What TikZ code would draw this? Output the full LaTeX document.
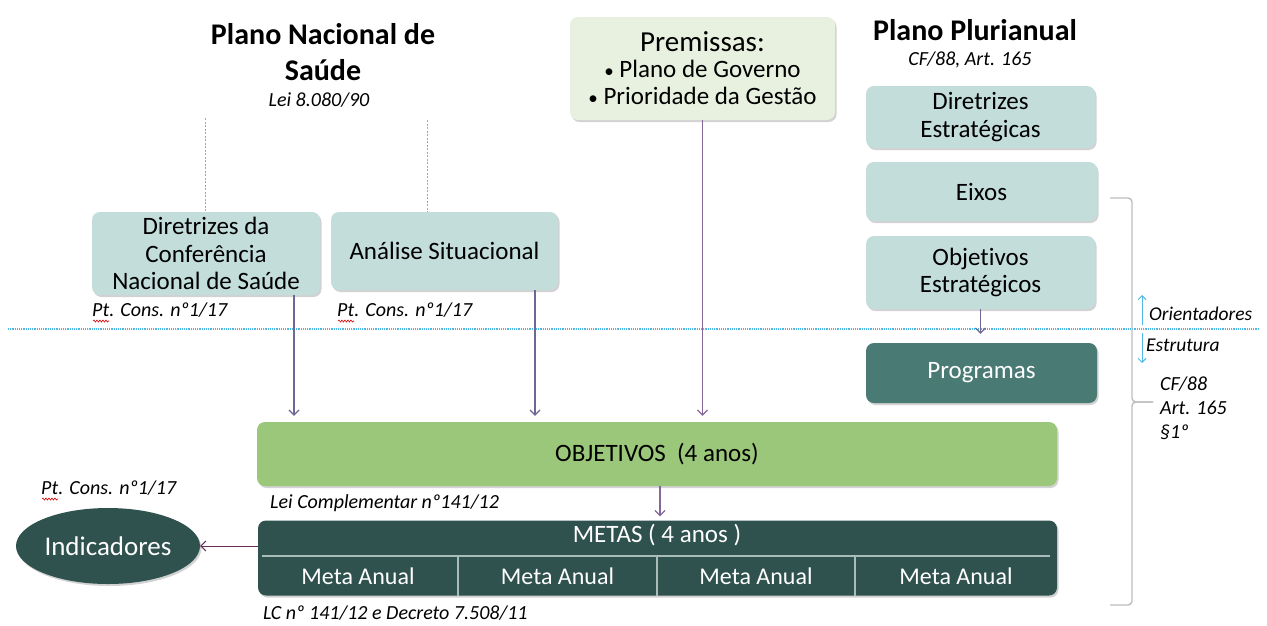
\documentclass[tikz,border=0pt]{standalone}
\usepackage{fontspec}
\setmainfont{Carlito}[Ligatures=NoCommon]
\usetikzlibrary{shadows,arrows.meta,decorations.pathmorphing,shapes.geometric}
\definecolor{lteal}{HTML}{C3DDDB}
\definecolor{lgreen}{HTML}{E8F1DF}
\definecolor{objgreen}{HTML}{9BC77A}
\definecolor{dteal}{HTML}{2F524F}
\definecolor{mteal}{HTML}{4A7A74}
\definecolor{arrgray}{HTML}{6E6894}
\definecolor{arrpurp}{HTML}{86679A}
\definecolor{arrmag}{HTML}{6B2D5C}
\definecolor{skyb}{HTML}{4DB8E6}
\definecolor{brgray}{HTML}{BDBDBD}
\definecolor{sepgray}{HTML}{A9BCB8}
\newcommand{\bul}{{\fontsize{19}{19}\selectfont •}\ }
\tikzset{
  shd/.style={drop shadow={shadow xshift=1.5pt, shadow yshift=-2pt, opacity=0.25, fill=black!70}},
  fbox/.style={rounded corners=8pt, draw=none, align=center, inner sep=0pt, shd,
    font=\fontsize{25}{27.5}\selectfont},
  ttl/.style={font=\fontsize{30}{36}\selectfont\bfseries, align=center, inner sep=0pt},
  ref/.style={font=\fontsize{20}{22}\selectfont\itshape, inner sep=0pt},
  arr/.style={draw=arrgray, line width=1.2pt, -{Straight Barb[length=5pt,width=10pt]}},
  blarr/.style={draw=skyb, line width=1pt, -{Straight Barb[length=4pt,width=8pt]}},
  brc/.style={draw=brgray, line width=1.4pt, rounded corners=4pt},
  guide/.style={draw=gray!70, line width=0.6pt, dash pattern=on 2pt off 1.5pt},
  squig/.style={draw=red!85!black, line width=0.6pt, decorate, decoration={snake, amplitude=1pt, segment length=3pt}},
  cell/.style={font=\fontsize{24}{26}\selectfont, text=white, inner sep=0pt}
}
\begin{document}
\begin{tikzpicture}[x=1pt,y=-1pt]
\useasboundingbox[fill=white] (0,0) rectangle (1267,625);

% titles
\node[ttl] (pns) at (323,52) {Plano Nacional de\\Saúde};
\node[ref] (lei8080) at (319,100) {Lei 8.080/90};
\node[ttl] (ppa) at (975,30) {Plano Plurianual};
\node[ref] (cf88) at (970,60) {CF/88, Art. 165};

% left boxes
\node[fbox, fill=lteal, minimum width=228pt, minimum height=83pt] (dir) at (206,253.5)
  {Diretrizes da\\Conferência\\Nacional de Saúde};
\node[fbox, fill=lteal, minimum width=227pt, minimum height=78pt] (anal) at (444.5,251)
  {Análise Situacional};

% guide lines
\coordinate (g1) at (205,118);
\coordinate (g2) at (427,120);
\draw[guide] (g1) -- (g1 |- dir.north);
\draw[guide] (g2) -- (g2 |- anal.north);

\node[ref, anchor=west] (pt1) at (92,310) {Pt. Cons. nº1/17};
\node[ref, anchor=west] (pt2) at (337,310) {Pt. Cons. nº1/17};
\draw[squig] ([xshift=1pt,yshift=-11pt]pt1.west) -- ++(16,0);
\draw[squig] ([xshift=1pt,yshift=-11pt]pt2.west) -- ++(16,0);

% premissas
\node[fbox, fill=lgreen, minimum width=265pt, minimum height=103pt] (prem) at (702.5,68.5)
  {{\fontsize{29}{31}\selectfont Premissas:}\\[-2pt]\bul Plano de Governo\\\bul Prioridade da Gestão};

% right column
\node[fbox, fill=lteal, minimum width=229pt, minimum height=62pt] (dire) at (980.5,117)
  {Diretrizes\\Estratégicas};
\node[fbox, fill=lteal, minimum width=231pt, minimum height=59pt] (eixos) at (981.5,191.5)
  {Eixos};
\node[fbox, fill=lteal, minimum width=229pt, minimum height=73pt] (obje) at (980.5,272.5)
  {Objetivos\\Estratégicos};
\node[fbox, fill=mteal, text=white, minimum width=231pt, minimum height=60pt] (prog) at (981.5,373)
  {Programas};

% divider line
\coordinate (dl) at (8,329);
\coordinate (dr) at (1258,329);
\draw[draw=skyb, line width=1.1pt, dash pattern=on 1.2pt off 1pt] (dl) -- (dr);

% objetivos
\node[fbox, fill=objgreen, minimum width=800pt, minimum height=64pt] (obj) at (657,454)
  {OBJETIVOS\ \ (4 anos)};
\node[ref, anchor=west] (lc1) at (270,503) {Lei Complementar nº141/12};

% metas
\node[fbox, fill=dteal, minimum width=799pt, minimum height=75pt] (metas) at (657.5,558) {};
\node[cell, font=\fontsize{25}{27}\selectfont] (mh) at (657,535) {METAS ( 4 anos )};
\coordinate (s1) at (262,556);
\coordinate (s2) at (1050,556);
\draw[draw=sepgray, line width=1.6pt] (s1) -- (s2);
\foreach \x in {458,657,855}{
  \draw[draw=sepgray, line width=1.6pt] (\x,556) -- (\x,0 |- metas.south);
}
\node[cell] (m1) at (358,576) {Meta Anual};
\node[cell] (m2) at (557.5,576) {Meta Anual};
\node[cell] (m3) at (756,576) {Meta Anual};
\node[cell] (m4) at (956,576) {Meta Anual};
\node[ref, anchor=west] (lc2) at (263,613) {LC nº 141/12 e Decreto 7.508/11};

% indicadores
\node[ellipse, fill=dteal, text=white, minimum width=184pt, minimum height=76pt, inner sep=0pt,
  shd, font=\fontsize{27}{29}\selectfont] (ind) at (108,546) {Indicadores};
\node[ref, anchor=west] (pt3) at (41,488) {Pt. Cons. nº1/17};
\draw[squig] ([xshift=1pt,yshift=-11pt]pt3.west) -- ++(16,0);

% arrows
\draw[arr] ([xshift=88pt]dir.south) -- ([xshift=88pt,yshift=6pt]dir.south |- obj.north);
\draw[arr] ([xshift=90.5pt]anal.south) -- ([xshift=90.5pt,yshift=6pt]anal.south |- obj.north);
\draw[arr, draw=arrpurp] (prem.south) -- ([yshift=6pt]prem.south |- obj.north);
\draw[arr] (obje.south) -- ([yshift=9pt]obje.south |- prog.north);
\draw[arr, draw=arrpurp] ([xshift=3pt]obj.south) -- ([xshift=3pt,yshift=4pt]obj.south |- metas.north);
\draw[arr, draw=arrmag, line width=1pt] ([yshift=12pt]metas.west) -- ([yshift=12pt]metas.west -| ind.east);

% bracket
\coordinate (bt) at (1110,198);
\coordinate (bm) at (1153,402);
\coordinate (bb) at (1110,605);
\draw[brc] (bt) -- (1132,198) -- (1132,402) -- (bm);
\draw[brc] (bm) -- (1132,402) -- (1132,605) -- (bb);

% orientadores / estrutura
\coordinate (oa) at (1142,325);
\coordinate (ob) at (1142,295);
\coordinate (ea) at (1142,333);
\coordinate (eb) at (1142,363);
\draw[blarr] (oa) -- (ob);
\draw[blarr] (ea) -- (eb);
\node[ref, anchor=west, font=\fontsize{19.5}{21}\selectfont\itshape] (ori) at (1149,314) {Orientadores};
\node[ref, anchor=west, font=\fontsize{19.5}{21}\selectfont\itshape] (est) at (1146,345) {Estrutura};
\node[ref, anchor=north west, align=left, font=\fontsize{20}{24}\selectfont\itshape] (cfart) at (1160,377) {CF/88\\Art. 165\\§1º};
\end{tikzpicture}
\end{document}
